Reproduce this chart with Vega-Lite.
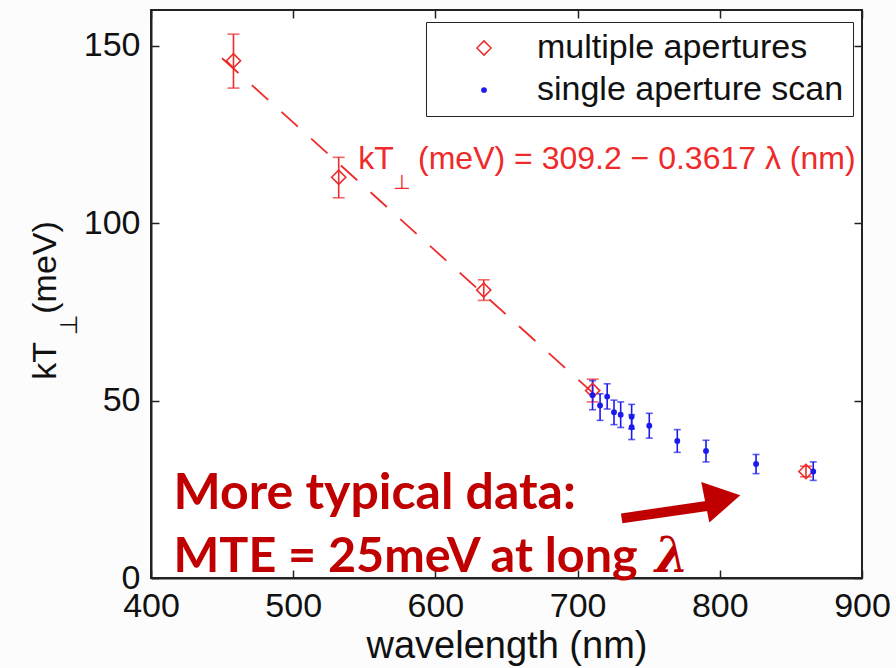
{
  "$schema": "https://vega.github.io/schema/vega-lite/v6.json",
  "width": 711,
  "height": 568,
  "autosize": {"type": "none"},
  "padding": {"left": 151, "top": 10, "right": 34, "bottom": 90},
  "background": "#fcfcfc",
  "config": {
    "view": {"stroke": "#222222", "strokeWidth": 2, "fill": "white"},
    "axis": {
      "labelFont": "Liberation Sans", "labelFontSize": 34, "labelColor": "#111111", "labelFlush": false, "labelOverlap": false,
      "titleFont": "Liberation Sans", "titleFontSize": 34, "titleFontWeight": "normal", "titleColor": "#111111",
      "domainColor": "#222222", "domainWidth": 2, "tickColor": "#222222", "tickWidth": 1.5,
      "tickSize": -8, "grid": false
    },
    "legend": {
      "labelFont": "Liberation Sans", "labelFontSize": 34, "labelColor": "#111111", "labelLimit": 500,
      "strokeColor": "#222222", "fillColor": "white", "padding": 9,
      "symbolOffset": 32, "labelOffset": 36, "rowPadding": 8, "symbolStrokeWidth": 1.5
    }
  },
  "datasets": {
    "pts": [
      {"series": "multiple apertures", "wl": 458, "kt": 145.7, "lo": 138.0, "hi": 153.2},
      {"series": "multiple apertures", "wl": 532, "kt": 112.9, "lo": 107.1, "hi": 118.5},
      {"series": "multiple apertures", "wl": 634, "kt": 81.1, "lo": 78.2, "hi": 84.0},
      {"series": "multiple apertures", "wl": 710.6, "kt": 52.8, "lo": 49.6, "hi": 56.0},
      {"series": "multiple apertures", "wl": 860.6, "kt": 30.0, "lo": 28.5, "hi": 31.5},
      {"series": "single aperture scan", "wl": 710.5, "kt": 51.5, "lo": 47.4, "hi": 55.6},
      {"series": "single aperture scan", "wl": 715.8, "kt": 48.6, "lo": 44.4, "hi": 51.9},
      {"series": "single aperture scan", "wl": 720.8, "kt": 51.1, "lo": 47.6, "hi": 54.7},
      {"series": "single aperture scan", "wl": 725.6, "kt": 46.7, "lo": 43.2, "hi": 50.1},
      {"series": "single aperture scan", "wl": 730.3, "kt": 46.0, "lo": 42.4, "hi": 49.6},
      {"series": "single aperture scan", "wl": 738.0, "kt": 45.4, "lo": 42.0, "hi": 48.9},
      {"series": "single aperture scan", "wl": 738.0, "kt": 42.5, "lo": 39.0, "hi": 46.0},
      {"series": "single aperture scan", "wl": 750.4, "kt": 42.9, "lo": 39.4, "hi": 46.4},
      {"series": "single aperture scan", "wl": 770.1, "kt": 38.6, "lo": 35.4, "hi": 41.8},
      {"series": "single aperture scan", "wl": 790.3, "kt": 35.8, "lo": 32.7, "hi": 38.8},
      {"series": "single aperture scan", "wl": 825.5, "kt": 32.1, "lo": 29.4, "hi": 34.8},
      {"series": "single aperture scan", "wl": 865.7, "kt": 30.0, "lo": 27.5, "hi": 32.7}
    ],
    "fit": [
      {"wl": 450, "kt": 146.4},
      {"wl": 720, "kt": 48.8}
    ]
  },
  "layer": [
    {
      "data": {"name": "fit"},
      "mark": {"type": "line", "color": "#ee2a2a", "strokeWidth": 1.8, "strokeDash": [22, 18]},
      "encoding": {
        "x": {"field": "wl", "type": "quantitative", "scale": {"domain": [400, 900], "nice": false},
              "axis": {"orient": "top", "labels": false, "title": null, "domain": false, "values": [400, 500, 600, 700, 800, 900]}},
        "y": {"field": "kt", "type": "quantitative", "scale": {"domain": [0, 160], "nice": false},
              "axis": {"orient": "right", "labels": false, "title": null, "domain": false, "values": [0, 50, 100, 150]}}
      }
    },
    {
      "data": {"name": "pts"},
      "transform": [{"filter": "datum.series == 'multiple apertures'"}],
      "mark": {"type": "rule", "color": "#ee2a2a", "strokeWidth": 1.6},
      "encoding": {
        "x": {"field": "wl", "type": "quantitative", "scale": {"domain": [400, 900], "nice": false},
              "axis": {"orient": "bottom", "values": [400, 500, 600, 700, 800, 900], "labelPadding": 19,
                       "title": "wavelength (nm)", "titleFontSize": 38, "titleY": 79, "titleBaseline": "alphabetic"}},
        "y": {"field": "lo", "type": "quantitative", "scale": {"domain": [0, 160], "nice": false},
              "axis": {"orient": "left", "values": [0, 50, 100, 150], "labelPadding": 19,
                       "title": "kT\u00a0\u00a0\u00a0(meV)", "titleX": -106, "titleY": 290, "titleBaseline": "middle", "titleAngle": 270}},
        "y2": {"field": "hi"}
      }
    },
    {
      "data": {"name": "pts"},
      "transform": [{"filter": "datum.series == 'multiple apertures'"}],
      "mark": {"type": "tick", "orient": "horizontal", "color": "#ee2a2a", "size": 12, "thickness": 1.6},
      "encoding": {
        "x": {"field": "wl", "type": "quantitative", "scale": {"domain": [400, 900], "nice": false}, "axis": null},
        "y": {"field": "lo", "type": "quantitative", "scale": {"domain": [0, 160], "nice": false}, "axis": null}
      }
    },
    {
      "data": {"name": "pts"},
      "transform": [{"filter": "datum.series == 'multiple apertures'"}],
      "mark": {"type": "tick", "orient": "horizontal", "color": "#ee2a2a", "size": 12, "thickness": 1.6},
      "encoding": {
        "x": {"field": "wl", "type": "quantitative", "scale": {"domain": [400, 900], "nice": false}, "axis": null},
        "y": {"field": "hi", "type": "quantitative", "scale": {"domain": [0, 160], "nice": false}, "axis": null}
      }
    },
    {
      "data": {"name": "pts"},
      "transform": [{"filter": "datum.series == 'single aperture scan'"}],
      "mark": {"type": "rule", "color": "#1a1aee", "strokeWidth": 1.6},
      "encoding": {
        "x": {"field": "wl", "type": "quantitative", "scale": {"domain": [400, 900], "nice": false}, "axis": null},
        "y": {"field": "lo", "type": "quantitative", "scale": {"domain": [0, 160], "nice": false}, "axis": null},
        "y2": {"field": "hi"}
      }
    },
    {
      "data": {"name": "pts"},
      "transform": [{"filter": "datum.series == 'single aperture scan'"}],
      "mark": {"type": "tick", "orient": "horizontal", "color": "#1a1aee", "size": 7, "thickness": 1.6},
      "encoding": {
        "x": {"field": "wl", "type": "quantitative", "scale": {"domain": [400, 900], "nice": false}, "axis": null},
        "y": {"field": "lo", "type": "quantitative", "scale": {"domain": [0, 160], "nice": false}, "axis": null}
      }
    },
    {
      "data": {"name": "pts"},
      "transform": [{"filter": "datum.series == 'single aperture scan'"}],
      "mark": {"type": "tick", "orient": "horizontal", "color": "#1a1aee", "size": 7, "thickness": 1.6},
      "encoding": {
        "x": {"field": "wl", "type": "quantitative", "scale": {"domain": [400, 900], "nice": false}, "axis": null},
        "y": {"field": "hi", "type": "quantitative", "scale": {"domain": [0, 160], "nice": false}, "axis": null}
      }
    },
    {
      "data": {"name": "pts"},
      "mark": {"type": "point", "strokeWidth": 1.6, "opacity": 1},
      "encoding": {
        "x": {"field": "wl", "type": "quantitative", "scale": {"domain": [400, 900], "nice": false}, "axis": null},
        "y": {"field": "kt", "type": "quantitative", "scale": {"domain": [0, 160], "nice": false}, "axis": null},
        "shape": {"field": "series", "type": "nominal",
                  "scale": {"domain": ["multiple apertures", "single aperture scan"], "range": ["diamond", "circle"]},
                  "legend": {"title": null, "orient": "none", "legendX": 275, "legendY": 12,
                             "labelExpr": "datum.label + '\u00a0\u00a0\u00a0\u00a0'"}},
        "stroke": {"field": "series", "type": "nominal",
                   "scale": {"domain": ["multiple apertures", "single aperture scan"], "range": ["#ee2a2a", "#1a1aee"]},
                   "legend": {"title": null, "orient": "none", "legendX": 275, "legendY": 12,
                              "labelExpr": "datum.label + '\u00a0\u00a0\u00a0\u00a0'"}},
        "fill": {"field": "series", "type": "nominal",
                 "scale": {"domain": ["multiple apertures", "single aperture scan"], "range": ["transparent", "#1a1aee"]},
                 "legend": {"title": null, "orient": "none", "legendX": 275, "legendY": 12,
                            "labelExpr": "datum.label + '\u00a0\u00a0\u00a0\u00a0'"}},
        "size": {"field": "series", "type": "nominal",
                 "scale": {"domain": ["multiple apertures", "single aperture scan"], "range": [200, 18]},
                 "legend": {"title": null, "orient": "none", "legendX": 275, "legendY": 12,
                            "labelExpr": "datum.label + '\u00a0\u00a0\u00a0\u00a0'"}}
      }
    },
    {
      "data": {"values": [{"wl": 545.8, "kt": 115.1, "label": "kT"}, {"wl": 587.8, "kt": 115.1, "label": "(meV) = 309.2 \u2212 0.3617 \u03bb (nm)"}]},
      "mark": {"type": "text", "font": "Liberation Sans", "fontSize": 32, "color": "#ee2a2a", "align": "left", "baseline": "alphabetic"},
      "encoding": {
        "x": {"field": "wl", "type": "quantitative", "scale": {"domain": [400, 900], "nice": false}, "axis": null},
        "y": {"field": "kt", "type": "quantitative", "scale": {"domain": [0, 160], "nice": false}, "axis": null},
        "text": {"field": "label"}
      }
    },
    {
      "data": {"values": [{"wl": 570.1, "kt": 109.6, "label": "\u22a5"}]},
      "mark": {"type": "text", "font": "DejaVu Sans", "fontSize": 20, "color": "#ee2a2a", "align": "left", "baseline": "alphabetic"},
      "encoding": {
        "x": {"field": "wl", "type": "quantitative", "scale": {"domain": [400, 900], "nice": false}, "axis": null},
        "y": {"field": "kt", "type": "quantitative", "scale": {"domain": [0, 160], "nice": false}, "axis": null},
        "text": {"field": "label"}
      }
    },
    {
      "data": {"values": [{"wl": 343.0, "kt": 71.3, "label": "\u22a5"}]},
      "mark": {"type": "text", "font": "DejaVu Sans", "fontSize": 24, "color": "#111111", "align": "center", "baseline": "middle", "angle": 270},
      "encoding": {
        "x": {"field": "wl", "type": "quantitative", "scale": {"domain": [400, 900], "nice": false}, "axis": null},
        "y": {"field": "kt", "type": "quantitative", "scale": {"domain": [0, 160], "nice": false}, "axis": null},
        "text": {"field": "label"}
      }
    },
    {
      "data": {"values": [{"wl": 731.0, "kt": 16.8, "wl2": 794.5, "kt2": 20.5}]},
      "mark": {"type": "rule", "color": "#c00000", "strokeWidth": 10, "strokeCap": "butt"},
      "encoding": {
        "x": {"field": "wl", "type": "quantitative", "scale": {"domain": [400, 900], "nice": false}, "axis": null},
        "y": {"field": "kt", "type": "quantitative", "scale": {"domain": [0, 160], "nice": false}, "axis": null},
        "x2": {"field": "wl2"},
        "y2": {"field": "kt2"}
      }
    },
    {
      "data": {"values": [{"wl": 802.1, "kt": 22.3}]},
      "mark": {"type": "point", "shape": "triangle-right", "filled": true, "color": "#c00000", "opacity": 1, "size": 1700, "angle": 348.7},
      "encoding": {
        "x": {"field": "wl", "type": "quantitative", "scale": {"domain": [400, 900], "nice": false}, "axis": null},
        "y": {"field": "kt", "type": "quantitative", "scale": {"domain": [0, 160], "nice": false}, "axis": null}
      }
    },
    {
      "data": {"values": [{"wl": 415.8, "kt": 19.5, "label": "More typical data:"}]},
      "mark": {"type": "text", "font": "Lato", "fontWeight": "bold", "fontSize": 50, "color": "#c00000", "align": "left", "baseline": "alphabetic"},
      "encoding": {
        "x": {"field": "wl", "type": "quantitative", "scale": {"domain": [400, 900], "nice": false}, "axis": null},
        "y": {"field": "kt", "type": "quantitative", "scale": {"domain": [0, 160], "nice": false}, "axis": null},
        "text": {"field": "label"}
      }
    },
    {
      "data": {"values": [{"wl": 415.8, "kt": 1.74, "label": "MTE = 25meV at long"}]},
      "mark": {"type": "text", "font": "Lato", "fontWeight": "bold", "fontSize": 48.5, "color": "#c00000", "align": "left", "baseline": "alphabetic"},
      "encoding": {
        "x": {"field": "wl", "type": "quantitative", "scale": {"domain": [400, 900], "nice": false}, "axis": null},
        "y": {"field": "kt", "type": "quantitative", "scale": {"domain": [0, 160], "nice": false}, "axis": null},
        "text": {"field": "label"}
      }
    },
    {
      "data": {"values": [{"wl": 754.5, "kt": 1.74, "label": "\u03bb"}]},
      "mark": {"type": "text", "font": "DejaVu Serif", "fontStyle": "italic", "fontWeight": "bold", "fontSize": 48, "color": "#c00000", "align": "left", "baseline": "alphabetic"},
      "encoding": {
        "x": {"field": "wl", "type": "quantitative", "scale": {"domain": [400, 900], "nice": false}, "axis": null},
        "y": {"field": "kt", "type": "quantitative", "scale": {"domain": [0, 160], "nice": false}, "axis": null},
        "text": {"field": "label"}
      }
    }
  ],
  "resolve": {"axis": {"x": "independent", "y": "independent"}}
}
